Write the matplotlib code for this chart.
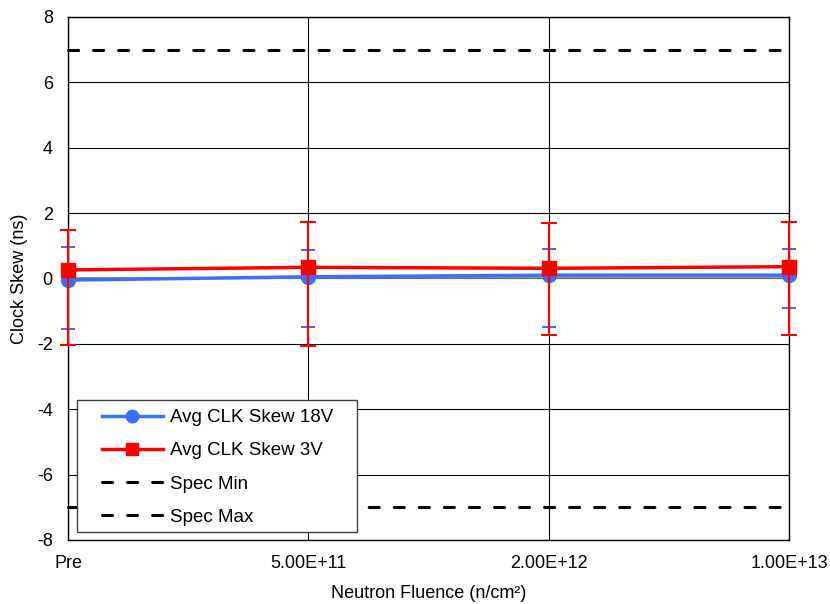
import numpy as np
import matplotlib
matplotlib.use("Agg")
import matplotlib.pyplot as plt
from matplotlib.lines import Line2D
from matplotlib.patches import Rectangle

plt.rcParams['font.family'] = ['Liberation Sans', 'DejaVu Sans']
plt.rcParams['axes.unicode_minus'] = False

categories = ['Pre', '5.00E+11', '2.00E+12', '1.00E+13']
skew_18v = [-0.05, 0.05, 0.10, 0.10]
skew_18v_lo = [-1.55, -1.50, -1.47, -0.91]
skew_18v_hi = [0.97, 0.87, 0.89, 0.89]
skew_3v = [0.26, 0.34, 0.31, 0.36]
skew_3v_lo = [-2.04, -2.08, -1.72, -1.73]
skew_3v_hi = [1.48, 1.74, 1.71, 1.72]
spec_min = -7
spec_max = 7

x = np.arange(len(categories))
blue = '#3a6ff7'
red = '#ff0000'
dash = (0, (3.3, 4.9))

fig = plt.figure(figsize=(8.3, 6.04), dpi=100)
ax = fig.add_axes([0.082, 0.106, 0.869, 0.866])

ax.grid(True, color='black', linewidth=0.8)
ax.set_axisbelow(True)

e18 = [np.array(skew_18v) - np.array(skew_18v_lo), np.array(skew_18v_hi) - np.array(skew_18v)]
e3 = [np.array(skew_3v) - np.array(skew_3v_lo), np.array(skew_3v_hi) - np.array(skew_3v)]

for spec in (spec_min, spec_max):
    ax.plot(x, [spec] * len(x), color='black', linestyle=dash, linewidth=2.2,
            dash_capstyle='round', clip_on=False)

ax.errorbar(x, skew_18v, yerr=e18, color=blue, marker='o', markersize=10, linewidth=2.5,
            elinewidth=1.5, capsize=5, capthick=1.5, clip_on=False, zorder=4)
ax.errorbar(x, skew_3v, yerr=e3, color=red, marker='s', markersize=10, linewidth=2.5,
            elinewidth=1.5, capsize=6, capthick=1.5, clip_on=False, zorder=5)

ax.axhline(0, color='#808080', linewidth=1.2, zorder=1)

ax.set_xlim(0, len(x) - 1)
ax.set_ylim(-8, 8)
ax.set_yticks(np.arange(-8, 9, 2))
ax.set_xticks(x)
ax.set_xticklabels(categories)
ax.tick_params(labelsize=13, length=0, pad=11)
for s in ax.spines.values():
    s.set_color('black')
    s.set_linewidth(1)

ax.set_xlabel('Neutron Fluence (n/cm²)', fontsize=13, labelpad=9)
ax.set_ylabel('Clock Skew (ns)', fontsize=13, labelpad=6)

# legend box (white, drawn separately for the wider side padding)
W, H = 830, 604
box = Rectangle((77 / W, 1 - 532 / H), 280 / W, 132 / H, transform=fig.transFigure,
                facecolor='white', edgecolor='#404040', linewidth=1, zorder=6)
fig.add_artist(box)

handles = [
    Line2D([], [], color=blue, marker='o', markersize=9, linewidth=2.5),
    Line2D([], [], color=red, marker='s', markersize=9, linewidth=2.5),
    Line2D([], [], color='black', linestyle=dash, linewidth=2.2, dash_capstyle='round'),
    Line2D([], [], color='black', linestyle=dash, linewidth=2.2, dash_capstyle='round'),
]
labels = ['Avg CLK Skew 18V', 'Avg CLK Skew 3V', 'Spec Min', 'Spec Max']
leg = fig.legend(handles, labels, loc='upper left', bbox_to_anchor=(102 / W, 1 - 409 / H),
                 fontsize=13.5, frameon=False, handlelength=3.25, handletextpad=0.37,
                 labelspacing=0.86, borderpad=0, borderaxespad=0)
leg.set_zorder(7)

fig.savefig('out.png', dpi=100)
